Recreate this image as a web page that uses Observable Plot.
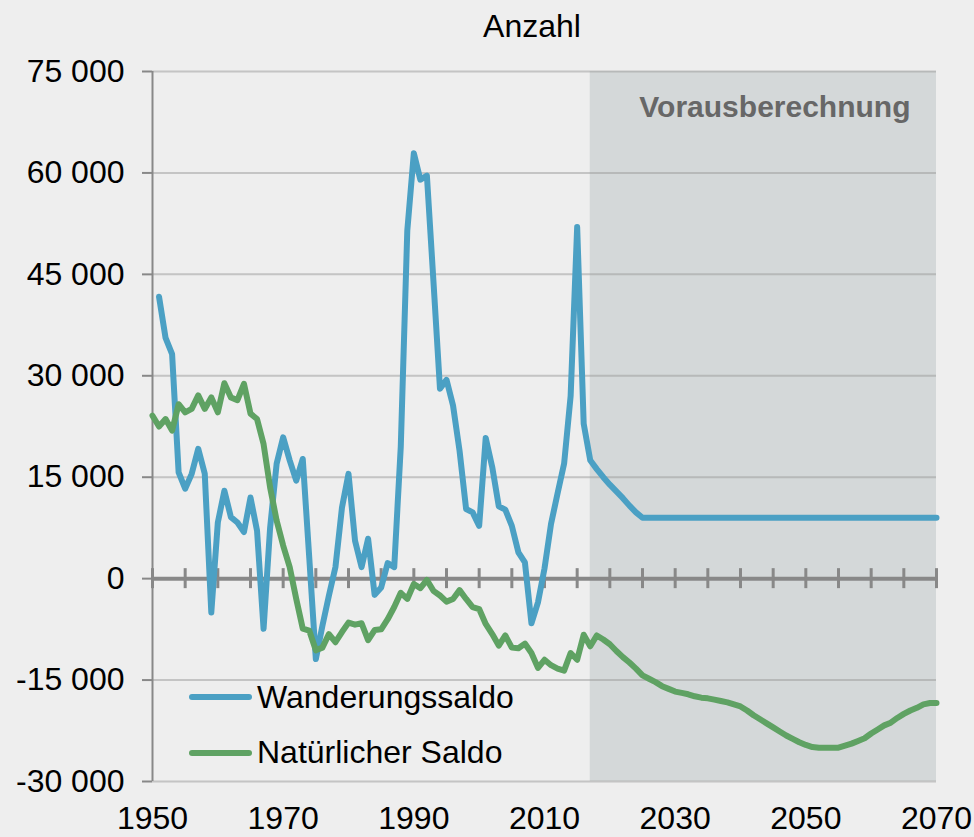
<!DOCTYPE html>
<html>
<head>
<meta charset="utf-8">
<script src="https://cdn.jsdelivr.net/npm/d3@7"></script>
<script src="https://cdn.jsdelivr.net/npm/@observablehq/plot@0.6"></script>
<style>
  html, body { margin: 0; padding: 0; background: #eeeeee; }
  body { font-family: "Liberation Sans", Arial, sans-serif; color: #000; }
  #wrap { position: relative; width: 974px; height: 837px; }
  #title { position: absolute; left: 432px; top: 10px; width: 200px; text-align: center; font-size: 32px; line-height: 32px; }
  .lg-swatch { position: absolute; left: 189px; width: 63px; height: 6px; border-radius: 3px; }
  .lg-text { position: absolute; left: 257px; font-size: 32px; line-height: 32px; white-space: nowrap; }
</style>
</head>
<body>
<div id="wrap">
  <div id="chart"></div>
  <div id="title">Anzahl</div>
  <div class="lg-swatch" style="top:694px;background:#4ba0c4"></div>
  <div class="lg-text" style="top:681px">Wanderungssaldo</div>
  <div class="lg-swatch" style="top:750px;background:#5fa263"></div>
  <div class="lg-text" style="top:736px">Natürlicher Saldo</div>
</div>
<script>
// ---- data ----
const seriesNames = ["Wanderungssaldo", "Natürlicher Saldo"];
const seriesColors = ["#4ba0c4", "#5fa263"];

const migrationYears = d3.range(1951, 2071);
const migration = [
  41700, 35600, 33200, 15700, 13300, 15500, 19200, 15500, -5000, 8300,   // 1951-1960
  13000, 9100, 8300, 6900, 12000, 7100, -7400, 7500, 17000, 20900,      // 1961-1970
  17500, 14500, 17700, 3000, -11900, -7000, -2500, 1700, 10500, 15500,  // 1971-1980
  5600, 1700, 5900, -2400, -1300, 2300, 1700, 19500, 51500, 62900,      // 1981-1990
  59000, 59600, 44000, 28100, 29400, 25600, 18900, 10300, 9800, 7800,   // 1991-2000
  20800, 16500, 10700, 10200, 7800, 3900, 2400, -6600, -3500, 1500,     // 2001-2010
  8100, 12600, 17000, 27000, 52000, 22900, 17500, 16200, 15000, 13900,  // 2011-2020
  12900, 11900, 10800, 9800, 9000, 9000, 9000, 9000, 9000, 9000,       // 2021-2030
  9000, 9000, 9000, 9000, 9000, 9000, 9000, 9000, 9000, 9000,          // 2031-2040
  9000, 9000, 9000, 9000, 9000, 9000, 9000, 9000, 9000, 9000,          // 2041-2050
  9000, 9000, 9000, 9000, 9000, 9000, 9000, 9000, 9000, 9000,          // 2051-2060
  9000, 9000, 9000, 9000, 9000, 9000, 9000, 9000, 9000, 9000           // 2061-2070
];

const naturalYears = d3.range(1950, 2071);
const natural = [
  24100,                                                                   // 1950
  22500, 23600, 21900, 25800, 24600, 25100, 27100, 25100, 26800, 24600,  // 1951-1960
  28900, 26800, 26400, 28800, 24400, 23600, 19900, 13500, 8600, 4900,    // 1961-1970
  1700, -3000, -7400, -7700, -10600, -10200, -8200, -9400, -7900, -6500, // 1971-1980
  -6800, -6600, -9100, -7600, -7500, -6000, -4200, -2100, -3000, -800,   // 1981-1990
  -1400, -200, -1800, -2500, -3400, -3000, -1700, -3000, -4200, -4500,   // 1991-2000
  -6700, -8200, -9900, -8400, -10200, -10300, -9600, -11000, -13200, -12000, // 2001-2010
  -12800, -13300, -13600, -11000, -12000, -8300, -10000, -8400, -9000, -9700, // 2011-2020
  -10700, -11600, -12400, -13300, -14300, -14800, -15300, -15900, -16300, -16700, // 2021-2030
  -16900, -17100, -17400, -17600, -17700, -17900, -18100, -18300, -18600, -18900, // 2031-2040
  -19500, -20200, -20800, -21400, -22000, -22600, -23200, -23700, -24200, -24600, // 2041-2050
  -24900, -25000, -25000, -25000, -25000, -24700, -24400, -24000, -23600, -22900, // 2051-2060
  -22300, -21700, -21300, -20600, -20000, -19500, -19100, -18600, -18400, -18400  // 2061-2070
];

const projectionRange = [2017, 2070];
const projectionLabel = "Vorausberechnung";
const yTicks = [-30000, -15000, 0, 15000, 30000, 45000, 60000, 75000];
const xTicks = [1950, 1970, 1990, 2010, 2030, 2050, 2070];
const minorTicks = d3.range(1950, 2071, 5);

// ---- build tables ----
const migData = migrationYears.map((year, i) => ({year, value: migration[i]}));
const natData = naturalYears.map((year, i) => ({year, value: natural[i]}));

const fmt = d => (d < 0 ? "-" : "") + d3.format(",")(Math.abs(d)).replace(/,/g, " ");

const chart = Plot.plot({
  width: 974,
  height: 837,
  marginLeft: 152,
  marginRight: 38,
  marginTop: 71,
  marginBottom: 56,
  x: {domain: [1950, 2070]},
  y: {domain: [-30000, 75000]},
  style: {
    background: "#eeeeee",
    fontFamily: "'Liberation Sans', Arial, sans-serif",
    fontSize: "32px",
    color: "#000",
    overflow: "visible"
  },
  marks: [
    Plot.rect([projectionRange], {x1: d => d[0], x2: d => d[1], fill: "#d4d8d9"}),
    Plot.ruleY(yTicks, {stroke: "#999999", strokeOpacity: 0.5, strokeWidth: 2}),
    Plot.ruleY([0], {stroke: "#888888", strokeWidth: 4}),
    Plot.ruleX(minorTicks, {y1: 0, y2: 0, insetTop: -10, insetBottom: -10, stroke: "#888888", strokeWidth: 3}),
    Plot.ruleX([1950], {stroke: "#888888", strokeWidth: 2}),
    Plot.axisY({ticks: yTicks, tickFormat: fmt, tickSize: 10, tickPadding: 18, stroke: "#888888", strokeWidth: 2, fill: "#000", label: null, fontSize: 32}),
    Plot.axisX({ticks: xTicks, tickFormat: d => String(d), tickSize: 0, tickPadding: 25, fill: "#000", label: null, fontSize: 32}),
    Plot.line(migData, {x: "year", y: "value", stroke: seriesColors[0], strokeWidth: 6, strokeLinejoin: "round", strokeLinecap: "round"}),
    Plot.line(natData, {x: "year", y: "value", stroke: seriesColors[1], strokeWidth: 6, strokeLinejoin: "round", strokeLinecap: "round"}),
    Plot.text([projectionLabel], {frameAnchor: "top-right", dx: -26, dy: 24, textAnchor: "end", fontWeight: "bold", fontSize: 30, fill: "#676767"})
  ]
});
document.getElementById("chart").appendChild(chart);
</script>
</body>
</html>
